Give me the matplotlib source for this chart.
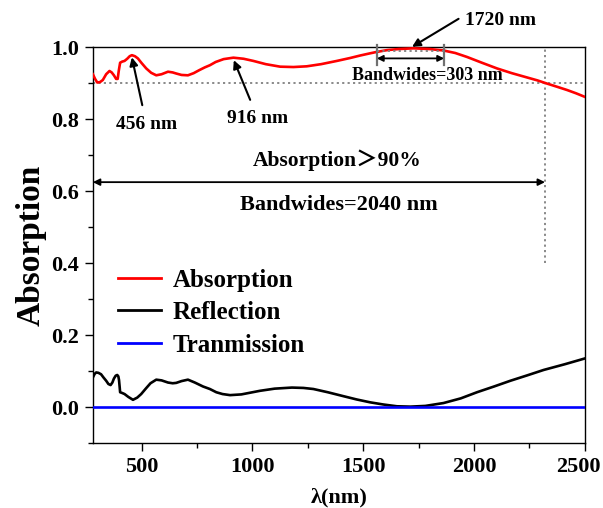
import matplotlib
matplotlib.use("Agg")
import matplotlib.pyplot as plt
from matplotlib.transforms import ScaledTranslation

# ---- data ----
abs_wl = [280, 290, 300, 312, 325, 340, 355, 365, 375, 385, 392, 397, 403, 412, 423, 435,
          446, 456, 470, 483, 500, 521, 543, 566, 590, 619, 640, 656, 680, 709, 735, 759,
          785, 808, 834, 870, 914, 960, 1004, 1060, 1125, 1185, 1245, 1310, 1381, 1440,
          1486, 1530, 1561, 1607, 1660, 1727, 1800, 1862, 1915, 1968, 2035, 2104, 2170,
          2239, 2285, 2329, 2375, 2420, 2460, 2500]
abs_val = [0.925, 0.912, 0.902, 0.903, 0.909, 0.925, 0.934, 0.930, 0.922, 0.912, 0.912,
           0.935, 0.957, 0.960, 0.962, 0.968, 0.975, 0.978, 0.975, 0.969, 0.956, 0.941,
           0.929, 0.922, 0.925, 0.932, 0.930, 0.927, 0.923, 0.922, 0.928, 0.936, 0.944,
           0.950, 0.959, 0.967, 0.971, 0.968, 0.962, 0.953, 0.946, 0.945, 0.947, 0.953,
           0.962, 0.970, 0.977, 0.983, 0.987, 0.992, 0.995, 0.997, 0.995, 0.991, 0.984,
           0.973, 0.957, 0.941, 0.928, 0.916, 0.908, 0.899, 0.890, 0.881, 0.872, 0.862]

ref_wl = [280, 288, 295, 305, 317, 328, 340, 350, 360, 368, 375, 383, 390, 395, 398, 401,
          403, 412, 423, 440, 461, 480, 498, 520, 540, 566, 590, 619, 640, 656, 680, 709,
          740, 777, 808, 837, 865, 899, 950, 1034, 1100, 1178, 1230, 1275, 1340, 1411,
          1470, 1531, 1590, 1652, 1712, 1780, 1862, 1940, 2013, 2090, 2164, 2240, 2314,
          2410, 2500]
ref_val = [0.082, 0.092, 0.096, 0.095, 0.091, 0.082, 0.073, 0.064, 0.061, 0.068, 0.079,
           0.087, 0.089, 0.085, 0.075, 0.055, 0.041, 0.039, 0.036, 0.028, 0.020, 0.026,
           0.036, 0.052, 0.066, 0.076, 0.074, 0.068, 0.066, 0.067, 0.072, 0.076, 0.068,
           0.057, 0.050, 0.041, 0.036, 0.033, 0.035, 0.045, 0.051, 0.054, 0.053, 0.050,
           0.041, 0.030, 0.021, 0.013, 0.007, 0.002, 0.001, 0.003, 0.011, 0.024, 0.041,
           0.057, 0.073, 0.088, 0.103, 0.119, 0.135]

tra_wl = [280, 2500]
tra_val = [0.0, 0.0]

series_labels = ["Absorption", "Reflection", "Tranmission"]
series_colors = ["#ff0000", "#000000", "#0000ff"]

x_ticks = [500, 1000, 1500, 2000, 2500]
y_ticks = [0.0, 0.2, 0.4, 0.6, 0.8, 1.0]

threshold = 0.9
band_start, band_end = 280, 2320
peak_band = (1561, 1865)
peaks = {"456 nm": 456, "916 nm": 916, "1720 nm": 1720}

# ---- plot ----
plt.rcParams['font.family'] = ['Liberation Serif', 'Noto Sans CJK SC', 'DejaVu Sans']
plt.rcParams['font.weight'] = 'bold'

fig = plt.figure(figsize=(6.03, 5.08), dpi=100)
ax = fig.add_axes([0.154, 0.128, 0.816, 0.779])

ax.plot(abs_wl, abs_val, color=series_colors[0], lw=1.9, label=series_labels[0], zorder=3)
ax.plot(ref_wl, ref_val, color=series_colors[1], lw=1.9, label=series_labels[1], zorder=3)
ax.plot(tra_wl, tra_val, color=series_colors[2], lw=1.9, label=series_labels[2], zorder=3)

ax.set_xlim(280, 2500)
ax.set_ylim(-0.1, 1.0)
ax.set_xticks(x_ticks)
ax.set_yticks(y_ticks)
ax.set_xticks([750, 1250, 1750, 2250], minor=True)
ax.set_yticks([-0.1, 0.1, 0.3, 0.5, 0.7, 0.9], minor=True)
ax.set_yticklabels([f"{v:.1f}" for v in y_ticks])
ax.tick_params(axis='both', which='major', direction='out', length=6, width=1.0,
               labelsize=16, pad=4)
ax.tick_params(axis='both', which='minor', direction='out', length=3.5, width=1.0)
for lab in ax.get_xticklabels() + ax.get_yticklabels():
    lab.set_fontweight('bold')
last = ax.get_xticklabels()[-1]
last.set_transform(last.get_transform() + ScaledTranslation(-7 / 100, 0, fig.dpi_scale_trans))
for sp in ax.spines.values():
    sp.set_linewidth(1.0)

ax.set_xlabel("λ(nm)", fontsize=16, fontweight='bold', labelpad=8)
ax.set_ylabel("Absorption", fontsize=24, fontweight='bold', labelpad=3)

# threshold lines
ax.axhline(threshold, color='#808080', ls=(0, (1.2, 1.8)), lw=1.3, zorder=2)
ax.plot([band_end, band_end], [0.4, 1.0], color='#808080', ls=(0, (1.2, 1.8)), lw=1.3, zorder=2)

# broad bandwidth arrow
ax.annotate("", xy=(band_start, 0.625), xytext=(band_end, 0.625),
            arrowprops=dict(arrowstyle='<|-|>', color='black', lw=1.3,
                            mutation_scale=10, shrinkA=0, shrinkB=0))
ax.text(1382, 0.685, "Absorption＞90%", ha='center', va='center', fontsize=15.5, fontweight='bold')
ax.text(1391, 0.562, "Bandwides=2040 nm", ha='center', va='center', fontsize=16, fontweight='bold')

# peak annotations
ax.annotate("456 nm", xy=(peaks["456 nm"], 0.972), xytext=(522, 0.785),
            ha='center', va='center', fontsize=14, fontweight='bold',
            arrowprops=dict(arrowstyle='-|>', color='black', lw=1.5, mutation_scale=12,
                            shrinkA=6, shrinkB=0))
ax.annotate("916 nm", xy=(peaks["916 nm"], 0.964), xytext=(1025, 0.801),
            ha='center', va='center', fontsize=14, fontweight='bold',
            arrowprops=dict(arrowstyle='-|>', color='black', lw=1.5, mutation_scale=12,
                            shrinkA=6, shrinkB=0))
ax.annotate("", xy=(peaks["1720 nm"], 1.001), xytext=(1930, 1.079),
            annotation_clip=False,
            arrowprops=dict(arrowstyle='-|>', color='black', lw=1.5, mutation_scale=12,
                            shrinkA=0, shrinkB=0))
ax.text(2118, 1.073, "1720 nm", ha='center', va='center', fontsize=14, fontweight='bold',
        clip_on=False)

# narrow bandwidth bracket
for xb in peak_band:
    ax.plot([xb, xb], [0.95, 1.005], color='#707070', lw=1.6, zorder=4, clip_on=False)
ax.plot(list(peak_band), [0.99, 0.99], color='#808080', ls=(0, (1.2, 1.8)), lw=1.3, zorder=4)
ax.annotate("", xy=(peak_band[0], 0.969), xytext=(peak_band[1], 0.969),
            arrowprops=dict(arrowstyle='<|-|>', color='black', lw=1.3,
                            mutation_scale=9, shrinkA=0, shrinkB=0))
ax.text(1787, 0.921, "Bandwides=303 nm", ha='center', va='center', fontsize=13, fontweight='bold')

leg = ax.legend(loc='upper left', bbox_to_anchor=(0.03, 0.466), frameon=False,
                fontsize=18, handlelength=1.75, handletextpad=0.45, labelspacing=0.38,
                borderaxespad=0)
for t in leg.get_texts():
    t.set_fontweight('bold')
for l in leg.get_lines():
    l.set_linewidth(2.0)

fig.savefig("out.png", dpi=100)
